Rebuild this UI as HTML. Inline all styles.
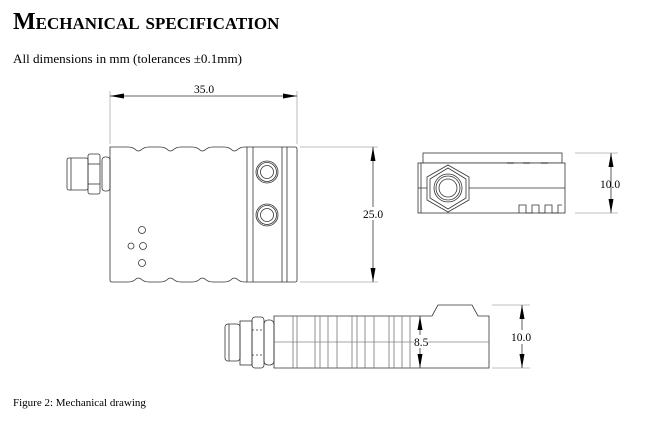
<!DOCTYPE html>
<html><head><meta charset="utf-8"><style>
html,body{margin:0;padding:0;background:#fff;width:654px;height:423px;overflow:hidden}
svg{display:block}
text{font-family:"Liberation Serif",serif;fill:#000}
</style></head><body>
<svg width="654" height="423" viewBox="0 0 654 423" xmlns="http://www.w3.org/2000/svg">
<text x="13" y="29" font-size="24" font-weight="bold" style="font-variant:small-caps">Mechanical specification</text>
<text x="13" y="63" font-size="13.1">All dimensions in mm (tolerances ±0.1mm)</text>
<text x="13" y="406" font-size="11">Figure 2: Mechanical drawing</text>

<g fill="none" stroke="#333" stroke-width="0.8">
<!-- TOP VIEW -->
<line x1="110" y1="91" x2="110" y2="144" stroke="#aaa"/>
<line x1="297" y1="91" x2="297" y2="144" stroke="#aaa"/>
<line x1="110" y1="96" x2="297" y2="96"/>
<path d="M110,147 L128,147 Q133,147 136,150 Q138,152 141,150 Q144,147 149,147 L160,147 Q165,147 168,150 Q170,152 173,150 Q176,147 181,147 L192,147 Q197,147 200,150 Q202,152 205,150 Q208,147 213,147 L224,147 Q229,147 232,150 Q234,152 237,150 Q240,147 245,147 L295,147 Q297,147 297,149 L297,280 Q297,282 295,282 L245,282 Q240,282 237,279 Q234,277 232,279 Q229,282 224,282 L213,282 Q208,282 205,279 Q202,277 200,279 Q197,282 192,282 L181,282 Q176,282 173,279 Q170,277 168,279 Q165,282 160,282 L149,282 Q144,282 141,279 Q138,277 136,279 Q133,282 128,282 L112,282 Q110,282 110,280 Z" fill="#fff"/>
<line x1="247" y1="147" x2="247" y2="282"/><line x1="253" y1="147" x2="253" y2="282"/>
<line x1="282" y1="147" x2="282" y2="282"/><line x1="287" y1="147" x2="287" y2="282"/>
<circle cx="267" cy="172" r="11"/><circle cx="267" cy="172" r="9.5"/><circle cx="267" cy="172" r="6.5"/>
<circle cx="267" cy="215" r="11"/><circle cx="267" cy="215" r="9.5"/><circle cx="267" cy="215" r="6.5"/>
<circle cx="142" cy="230" r="3.5"/><circle cx="131" cy="246" r="3"/><circle cx="143" cy="246" r="3.5"/><circle cx="142" cy="263" r="3.5"/>
<rect x="67" y="158" width="21" height="32" rx="2"/>
<line x1="71" y1="158" x2="71" y2="190"/>
<rect x="88" y="154" width="12" height="40" rx="2"/>
<line x1="88" y1="164" x2="100" y2="164"/><line x1="88" y1="184" x2="100" y2="184"/>
<rect x="102" y="157" width="8" height="34" rx="3"/>
<line x1="300" y1="147" x2="378" y2="147" stroke="#aaa"/>
<line x1="300" y1="282" x2="378" y2="282" stroke="#aaa"/>
<line x1="373" y1="147" x2="373" y2="282"/>
<!-- END VIEW -->
<rect x="423" y="153" width="139" height="10"/>
<rect x="418" y="163" width="147" height="50" fill="#fff"/>
<line x1="421" y1="163" x2="421" y2="213"/>
<line x1="418" y1="188" x2="565" y2="188"/>
<polygon points="448,165 469,177 469,200 448,212 427,200 427,177" fill="#fff"/>
<polygon points="448,168 466,179 466,198 448,209 430,198 430,179"/>
<circle cx="448" cy="188" r="14"/><circle cx="448" cy="188" r="12"/><circle cx="448" cy="188" r="9"/>
<path d="M519,213 V205 H526 V213 H532 V205 H539 V213 H545 V205 H552 V213 H558 V205 H562"/>
<line x1="507" y1="163" x2="514" y2="163" stroke-width="1.2"/><line x1="523" y1="163" x2="530" y2="163" stroke-width="1.2"/><line x1="541" y1="163" x2="548" y2="163" stroke-width="1.2"/>
<line x1="575" y1="153" x2="618" y2="153" stroke="#aaa"/>
<line x1="575" y1="213" x2="618" y2="213" stroke="#aaa"/>
<line x1="611" y1="153" x2="611" y2="213"/>
<!-- SIDE VIEW -->
<path d="M274,316 H432 L438,305 H472 L478,316 H489 V368 H274 Z" fill="#fff"/>
<line x1="274" y1="342" x2="489" y2="342" stroke="#888"/>
<g stroke="#777">
<line x1="293" y1="316" x2="293" y2="368"/><line x1="297" y1="316" x2="297" y2="368"/>
<line x1="315" y1="316" x2="315" y2="368"/><line x1="320" y1="316" x2="320" y2="368"/>
<line x1="328" y1="316" x2="328" y2="368"/><line x1="337" y1="316" x2="337" y2="368"/>
<line x1="352" y1="316" x2="352" y2="368"/><line x1="357" y1="316" x2="357" y2="368"/>
<line x1="365" y1="316" x2="365" y2="368"/><line x1="374" y1="316" x2="374" y2="368"/>
<line x1="389" y1="316" x2="389" y2="368"/><line x1="394" y1="316" x2="394" y2="368"/>
<line x1="402" y1="316" x2="402" y2="368"/><line x1="410" y1="316" x2="410" y2="368"/>
</g>
<rect x="225" y="324" width="15" height="37" rx="3"/>
<line x1="229" y1="324" x2="229" y2="361"/>
<rect x="240" y="321" width="12" height="44"/>
<rect x="252" y="317" width="12" height="51" rx="3"/>
<line x1="252" y1="330" x2="264" y2="330" stroke-dasharray="2,2"/><line x1="252" y1="355" x2="264" y2="355" stroke-dasharray="2,2"/>
<rect x="264" y="320" width="10" height="45" rx="4"/>
<line x1="420" y1="316" x2="420" y2="368"/>
<line x1="492" y1="305" x2="530" y2="305" stroke="#aaa"/>
<line x1="492" y1="368" x2="530" y2="368" stroke="#aaa"/>
<line x1="522" y1="305" x2="522" y2="368"/>
</g>
<g fill="#000">
<polygon points="110,96 124,93.5 124,98.5"/><polygon points="297,96 283,93.5 283,98.5"/>
<polygon points="373,147 370.5,161 375.5,161"/><polygon points="373,282 370.5,268 375.5,268"/>
<polygon points="611,153 608.5,167 613.5,167"/><polygon points="611,213 608.5,199 613.5,199"/>
<polygon points="420,316 417.5,330 422.5,330"/><polygon points="420,368 417.5,354 422.5,354"/>
<polygon points="522,305 519.5,319 524.5,319"/><polygon points="522,368 519.5,354 524.5,354"/>
</g>
<rect x="363" y="207" width="22" height="13" fill="#fff"/>
<text x="194" y="93" font-size="11.5">35.0</text>
<text x="363" y="218" font-size="11.5">25.0</text>
<text x="600" y="188" font-size="11.5">10.0</text>
<rect x="414" y="335" width="14" height="13" fill="#fff"/>
<text x="414" y="346" font-size="11.5">8.5</text>
<rect x="511" y="330" width="22" height="14" fill="#fff"/>
<text x="511" y="341" font-size="11.5">10.0</text>
</svg>
</body></html>
